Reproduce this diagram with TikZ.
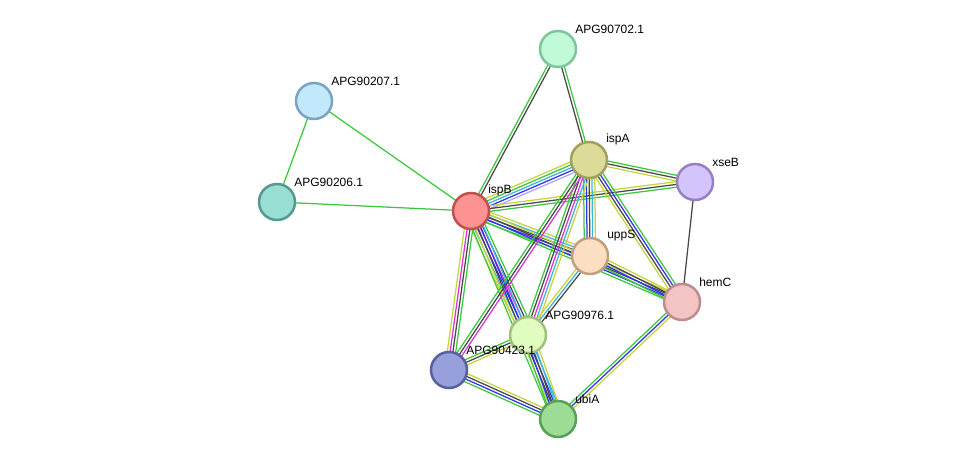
\documentclass[tikz,border=0pt]{standalone}
\usepackage{fontspec}
\setmainfont{Liberation Sans}
\usepackage{tikz}
\usetikzlibrary{calc,backgrounds}
\usepackage{xcolor}
\definecolor{cGreen}{HTML}{3CC83C}
\definecolor{cBlack}{HTML}{484848}
\definecolor{cBlue}{HTML}{3232F0}
\definecolor{cCyan}{HTML}{3CB4DC}
\definecolor{cMag}{HTML}{DC32DC}
\definecolor{cYel}{HTML}{C4D43C}
\definecolor{cLav}{HTML}{A8A8FC}
% n parallel coloured strands between two proteins
\newcommand{\lnk}[4]{%
  \foreach \cc [count=\i] in {#4} {
    \pgfmathsetmacro{\off}{(\i-(#3+1)/2)*2.8}
    \draw[edge, \cc] ($(#1)!\off pt!90:(#2)$) -- ($(#2)!\off pt!-90:(#1)$);
  }}

\begin{document}
\begin{tikzpicture}[
    x=1pt, y=-1pt,
    prot/.style={circle, minimum size=36pt, inner sep=0pt, line width=2.5pt},
    lbl/.style={font=\fontsize{12}{14}\selectfont, inner sep=3.5pt, yshift=-2pt},
    edge/.style={line width=1.25pt},
]
\useasboundingbox (0,0) rectangle (976,465);
\node[prot, fill={rgb,255:red,192;green,250;blue,214}, draw={rgb,255:red,128;green,196;blue,158}, label={[lbl]above right:APG90702.1}] (g702) at (558,49) {};
\node[prot, fill={rgb,255:red,194;green,232;blue,252}, draw={rgb,255:red,124;green,164;blue,194}, label={[lbl]above right:APG90207.1}] (g207) at (314,101) {};
\node[prot, fill={rgb,255:red,152;green,222;blue,210}, draw={rgb,255:red,88;green,152;blue,146}, label={[lbl]above right:APG90206.1}] (g206) at (277,202) {};
\node[prot, fill={rgb,255:red,252;green,146;blue,146}, draw={rgb,255:red,190;green,80;blue,80}, label={[lbl]above right:ispB}] (ispB) at (471,211) {};
\node[prot, fill={rgb,255:red,220;green,220;blue,152}, draw={rgb,255:red,160;green,160;blue,96}, label={[lbl]above right:ispA}] (ispA) at (589,160) {};
\node[prot, fill={rgb,255:red,212;green,196;blue,252}, draw={rgb,255:red,150;green,128;blue,196}, label={[lbl]above right:xseB}] (xseB) at (695,182) {};
\node[prot, fill={rgb,255:red,252;green,222;blue,192}, draw={rgb,255:red,190;green,160;blue,128}, label={[lbl]above right:uppS}] (uppS) at (590,256) {};
\node[prot, fill={rgb,255:red,244;green,196;blue,196}, draw={rgb,255:red,190;green,140;blue,140}, label={[lbl]above right:hemC}] (hemC) at (682,302) {};
\node[prot, fill={rgb,255:red,224;green,252;blue,190}, draw={rgb,255:red,160;green,192;blue,128}, label={[lbl]above right:APG90976.1}] (g976) at (528,335) {};
\node[prot, fill={rgb,255:red,152;green,160;blue,220}, draw={rgb,255:red,88;green,96;blue,160}, label={[lbl]above right:APG90423.1}] (g423) at (449,370) {};
\node[prot, fill={rgb,255:red,156;green,220;blue,148}, draw={rgb,255:red,88;green,160;blue,88}, label={[lbl]above right:ubiA}] (ubiA) at (558,419) {};

\begin{scope}[on background layer]
\fill[white] (0,0) rectangle (976,465);
\lnk{g207}{g206}{1}{cGreen}
\lnk{g207}{ispB}{1}{cGreen}
\lnk{g206}{ispB}{1}{cGreen}
\lnk{g702}{ispB}{2}{cGreen,cBlack}
\lnk{g702}{ispA}{2}{cBlack,cGreen}
\lnk{ispB}{ispA}{5}{cLav,cBlue,cCyan,cGreen,cYel}
\lnk{ispB}{xseB}{3}{cGreen,cBlack,cYel}
\lnk{ispA}{xseB}{3}{cYel,cBlack,cGreen}
\lnk{ispB}{uppS}{5}{cGreen,cBlue,cBlack,cCyan,cYel}
\lnk{ispB}{hemC}{4}{cGreen,cBlue,cBlack,cYel}
\lnk{ispB}{g976}{6}{cYel,cCyan,cBlue,cMag,cBlack,cGreen}
\lnk{ispB}{g423}{4}{cYel,cMag,cBlack,cGreen}
\lnk{ispB}{ubiA}{5}{cGreen,cYel,cBlack,cBlue,cCyan}
\lnk{ispA}{uppS}{5}{cGreen,cBlue,cBlack,cCyan,cYel}
\lnk{ispA}{hemC}{4}{cYel,cBlack,cBlue,cGreen}
\lnk{ispA}{g976}{5}{cGreen,cBlack,cMag,cCyan,cYel}
\lnk{ispA}{g423}{3}{cGreen,cBlack,cMag}
\lnk{xseB}{hemC}{1}{cBlack}
\lnk{uppS}{hemC}{4}{cGreen,cBlue,cBlack,cYel}
\lnk{uppS}{g976}{3}{cYel,cCyan,cBlack}
\lnk{g976}{g423}{3}{cGreen,cBlack,cYel}
\lnk{g976}{ubiA}{5}{cGreen,cBlue,cBlack,cCyan,cYel}
\lnk{g423}{ubiA}{4}{cGreen,cBlue,cBlack,cYel}
\lnk{hemC}{ubiA}{3}{cGreen,cBlue,cYel}
\end{scope}
\end{tikzpicture}
\end{document}
